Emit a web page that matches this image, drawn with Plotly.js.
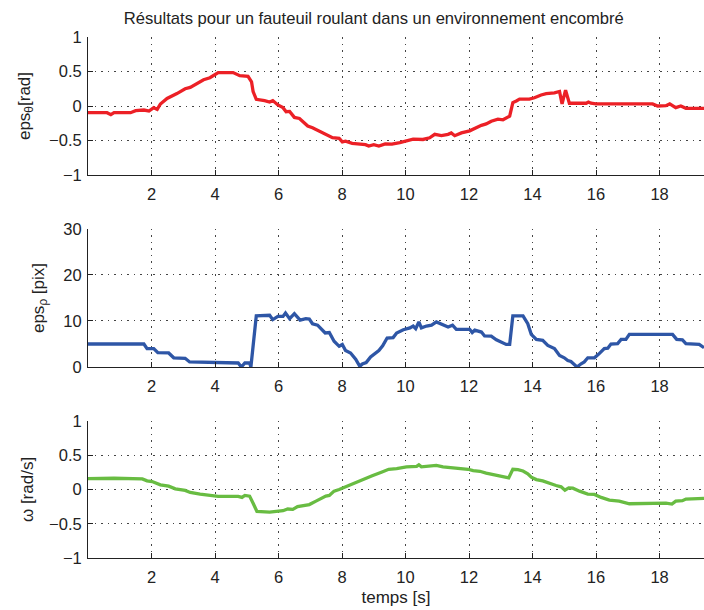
<!DOCTYPE html>
<html><head><meta charset="utf-8">
<script src="https://cdn.plot.ly/plotly-3.0.1.min.js"></script>
<style>html,body{margin:0;padding:0;background:#fff}#g{width:704px;height:610px}</style>
</head><body><div id="g"></div>
<script>
const tTheta = [0,0.6,0.72,0.82,1.34,1.5,1.76,1.92,2.07,2.18,2.28,2.49,2.8,3.06,3.22,3.38,3.64,3.84,4.1,4.57,4.78,5.04,5.15,5.2,5.3,5.56,5.72,5.82,5.98,6.14,6.24,6.35,6.5,6.66,6.92,7.07,7.49,7.7,7.91,8.01,8.11,8.32,8.74,8.84,9.0,9.16,9.36,9.57,9.82,10.03,10.24,10.55,10.76,10.92,11.13,11.34,11.44,11.55,11.76,12.02,12.18,12.39,12.54,12.7,12.91,13.07,13.28,13.38,13.49,13.59,13.9,14.06,14.27,14.43,14.69,14.85,14.93,15.04,15.16,15.69,15.76,15.84,16.0,17.78,17.94,18.2,18.32,18.51,18.67,18.83,19.4];
const epsTheta = [-0.097,-0.097,-0.126,-0.097,-0.097,-0.068,-0.058,-0.073,-0.024,-0.049,0.029,0.11,0.18,0.25,0.27,0.31,0.38,0.41,0.485,0.485,0.44,0.43,0.35,0.21,0.097,0.078,0.058,0.078,0.015,-0.024,-0.083,-0.078,-0.165,-0.18,-0.29,-0.315,-0.42,-0.46,-0.47,-0.52,-0.51,-0.54,-0.56,-0.58,-0.56,-0.58,-0.55,-0.553,-0.53,-0.51,-0.48,-0.485,-0.46,-0.41,-0.43,-0.41,-0.39,-0.43,-0.39,-0.36,-0.325,-0.28,-0.26,-0.22,-0.19,-0.2,-0.146,0.049,0.073,0.1,0.1,0.12,0.16,0.18,0.19,0.21,0.03,0.23,0.04,0.04,0.058,0.04,0.03,0.03,0,0.005,0.03,-0.024,0,-0.034,-0.034];

const tRho = [0,1.76,1.86,2.07,2.2,2.54,2.7,3.06,3.2,3.95,4.73,4.83,4.94,5.09,5.13,5.3,5.72,5.82,5.98,6.14,6.22,6.35,6.5,6.68,6.86,6.97,7.07,7.23,7.47,7.6,7.75,7.91,8.01,8.11,8.27,8.43,8.56,8.64,8.76,8.9,9.16,9.28,9.42,9.61,9.72,9.93,10.14,10.24,10.32,10.42,10.5,10.66,10.82,10.97,11.13,11.34,11.48,11.6,12.02,12.1,12.18,12.39,12.49,12.7,12.86,13.02,13.17,13.28,13.38,13.7,13.85,13.96,14.12,14.32,14.48,14.69,14.85,15.0,15.11,15.21,15.4,15.53,15.63,15.74,15.95,16.1,16.26,16.37,16.47,16.68,16.79,16.94,17.05,18.41,18.54,18.72,18.83,19.25,19.4];
const epsRho = [5.0,5.0,4.0,4.0,3.1,3.05,2.0,1.9,1.1,0.95,0.87,0,0.87,0.87,0,11.1,11.25,10.3,11.0,11.0,11.75,10.5,11.6,10.2,10.5,10.4,9.4,9.1,7.4,7.5,5.6,4.5,4.9,3.6,3.05,1.7,0.15,0.65,0.95,2.2,3.6,4.6,6.3,6.4,7.4,8.1,8.5,8.9,8.35,9.8,8.5,8.9,9.1,9.8,9.3,8.7,9.1,8.2,8.2,7.5,8.0,7.6,6.75,6.7,5.9,5.4,4.9,4.9,11.1,11.1,9.4,7.1,6.0,5.8,4.7,4.0,2.5,2.0,1.4,1.2,0,0.7,1.1,2.0,2.0,2.9,4.0,4.1,5.0,5.1,6.0,6.0,7.1,7.1,6.0,5.9,5.1,4.9,4.2];

const tOmega = [0,0.82,1.71,1.86,2.02,2.28,2.54,2.75,3.06,3.22,3.53,3.84,4.1,4.73,4.85,4.94,5.09,5.2,5.32,5.72,5.93,6.14,6.29,6.45,6.6,6.76,6.97,7.18,7.49,7.6,7.75,7.91,8.22,8.64,8.95,9.26,9.47,9.72,10.03,10.35,10.42,10.5,10.82,10.97,11.18,11.5,11.6,11.97,12.13,12.34,12.54,12.86,13.07,13.25,13.38,13.54,13.7,13.85,13.96,14.12,14.32,14.53,14.74,14.9,15.02,15.14,15.27,15.48,15.74,15.95,16.16,16.42,16.73,17.05,17.88,18.2,18.39,18.51,18.72,18.83,19.4];
const omega = [0.16,0.164,0.155,0.126,0.116,0.068,0.048,0.01,-0.014,-0.043,-0.068,-0.082,-0.1,-0.1,-0.116,-0.087,-0.097,-0.2,-0.32,-0.33,-0.314,-0.31,-0.285,-0.29,-0.25,-0.24,-0.22,-0.17,-0.097,-0.087,-0.024,0,0.063,0.145,0.2,0.256,0.295,0.305,0.33,0.338,0.36,0.33,0.338,0.353,0.33,0.32,0.305,0.295,0.275,0.266,0.24,0.21,0.19,0.17,0.295,0.29,0.27,0.23,0.18,0.145,0.126,0.087,0.058,0.039,-0.01,0.024,0.019,-0.024,-0.068,-0.072,-0.116,-0.155,-0.17,-0.208,-0.208,-0.2,-0.213,-0.17,-0.164,-0.14,-0.13];

const xTicks = [2,4,6,8,10,12,14,16,18];
const yTicksAngle = [-1,-0.5,0,0.5,1];
const yTicksPix = [0,10,20,30];

const FONT = 'Liberation Sans, Arial, sans-serif';
const tickF = {family:FONT,size:16.5,color:'#222'};
const tf = {family:FONT,size:17,color:'#222'};
const xBase = {range:[0,19.4], tickvals:xTicks, ticks:'inside', ticklen:5, tickcolor:'#222',
  showline:true, linecolor:'#222', linewidth:1, showgrid:true, gridcolor:'#444', griddash:'1.5px,5px', gridwidth:1,
  zeroline:false, tickfont:tickF, ticklabelstandoff:4, fixedrange:true};
const yBase = {ticks:'inside', ticklen:5, tickcolor:'#222', showline:true, linecolor:'#222', linewidth:1,
  showgrid:true, gridcolor:'#444', griddash:'1.5px,5px', gridwidth:1, zeroline:false,
  tickfont:tickF, ticklabelstandoff:2};

const traces = [
  {x:tTheta, y:epsTheta, xaxis:'x', yaxis:'y', mode:'lines', line:{color:'rgb(236,32,38)',width:3.3}},
  {x:tRho, y:epsRho, xaxis:'x2', yaxis:'y2', mode:'lines', line:{color:'rgb(46,86,166)',width:3.3}},
  {x:tOmega, y:omega, xaxis:'x3', yaxis:'y3', mode:'lines', line:{color:'rgb(104,188,66)',width:3.3}}
];

const layout = {
  width:704, height:610, showlegend:false,
  paper_bgcolor:'#fff', plot_bgcolor:'#fff',
  margin:{l:88, r:0, t:37, b:52},
  title:{text:'Résultats pour un fauteuil roulant dans un environnement encombré', font:{family:FONT,size:16.6,color:'#222'}, xref:'container', x:0.531, xanchor:'center', yref:'container', y:0.9705, yanchor:'middle'},
  xaxis: Object.assign({}, xBase, {anchor:'y'}),
  xaxis2: Object.assign({}, xBase, {anchor:'y2'}),
  xaxis3: Object.assign({}, xBase, {anchor:'y3', title:{text:'temps [s]', font:tf, standoff:6}}),
  yaxis: Object.assign({}, yBase, {domain:[0.7351,1], range:[-1,1], tickvals:yTicksAngle, anchor:'x',
    title:{text:'eps<sub>θ</sub>[rad]', font:tf, standoff:14}}),
  yaxis2: Object.assign({}, yBase, {domain:[0.3666,0.6315], range:[0,30], tickvals:yTicksPix, anchor:'x2',
    title:{text:'eps<sub>ρ</sub> [pix]', font:tf, standoff:14}}),
  yaxis3: Object.assign({}, yBase, {domain:[0,0.263], range:[-1,1], tickvals:yTicksAngle, anchor:'x3',
    title:{text:'ω [rad/s]', font:tf, standoff:11}})
};
Plotly.newPlot('g', traces, layout, {displayModeBar:false, staticPlot:true});
</script></body></html>
